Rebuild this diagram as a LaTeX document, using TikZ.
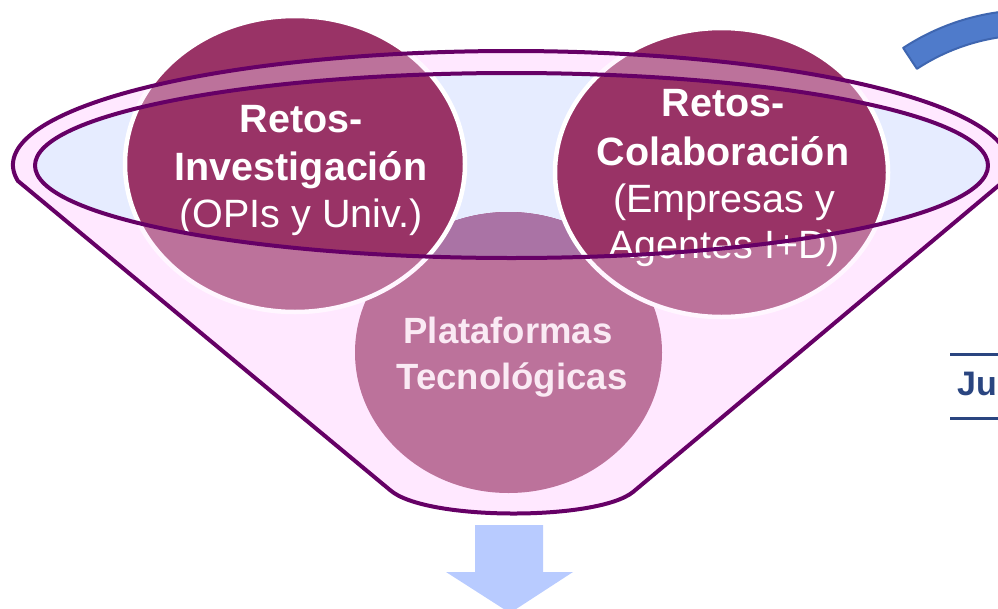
\documentclass[tikz,border=0pt]{standalone}
\usepackage{fontspec}
\setmainfont{Liberation Sans}
\definecolor{circ}{HTML}{993366}
\definecolor{funnelfill}{HTML}{FFE8FF}
\definecolor{innerfill}{HTML}{E6ECFF}
\definecolor{rim}{HTML}{660066}
\definecolor{botin}{HTML}{AA73A5}
\definecolor{arcblue}{HTML}{4F7BCB}
\definecolor{arcedge}{HTML}{3F66B0}
\definecolor{arrowblue}{HTML}{B8CBFF}
\definecolor{navy}{HTML}{2A4580}
\definecolor{platext}{HTML}{FAEAF4}
\begin{document}
\begin{tikzpicture}[x=1pt,y=-1pt,
  txtb/.style={text=white,inner sep=0pt,anchor=base,font=\fontsize{39.5}{47}\selectfont\bfseries},
  txtr/.style={text=white,inner sep=0pt,anchor=base,font=\fontsize{39.5}{47}\selectfont},
  txtp/.style={text=platext,inner sep=0pt,anchor=base,font=\fontsize{36.5}{46}\selectfont\bfseries},
  rimline/.style={draw=rim,line width=4pt,line join=round},
  topcirc/.style={fill=circ,draw=white,line width=4.5pt}]
\useasboundingbox (0,0) rectangle (998,608);
\clip (0,0) rectangle (998,608);
% funnel body
\fill[funnelfill] (511,165) ++(172:498 and 114) arc[start angle=172,end angle=368,x radius=498,y radius=114] -- (633,492) .. controls (597,521) and (425,521) .. (390,490) -- cycle;
% inner opening
\fill[innerfill] (511.5,165.5) ellipse [x radius=476.5, y radius=92.5];
% bottom circle
\fill[circ] (508.5,352.5) ellipse [x radius=153.5, y radius=140.5];
\begin{scope}
  \clip (511.5,165.5) ellipse [x radius=476.5, y radius=92.5];
  \fill[botin] (508.5,352.5) ellipse [x radius=153.5, y radius=140.5];
\end{scope}
% top circles
\path[topcirc] (295,164) ellipse [x radius=170, y radius=148];
\path[topcirc] (721.5,172.5) ellipse [x radius=166.5, y radius=144.5];
% translucent funnel overlay outside the opening
\fill[funnelfill,fill opacity=0.35,even odd rule]
  (511,165) ++(172:498 and 114) arc[start angle=172,end angle=368,x radius=498,y radius=114] -- (633,492) .. controls (597,521) and (425,521) .. (390,490) -- cycle
  (511.5,165.5) ellipse [x radius=476.5, y radius=92.5];
% texts
\node[txtb] (l1) at (301,132) {Retos-};
\node[txtb] (l2) at (301,180) {Investigación};
\node[txtr] (l3) at (301,227) {(OPIs y Univ.)};
\node[txtb] (r1) at (723,116) {Retos-};
\node[txtb] (r2) at (723,165) {Colaboración};
\node[txtr] (r3) at (724,212) {(Empresas y};
\node[txtr] (r4) at (724,258) {Agentes I+D)};
\node[txtp] (p1) at (508,343) {Plataformas};
\node[txtp] (p2) at (512,389) {Tecnológicas};
% outlines
\path[rimline] (511,165) ++(172:498 and 114) arc[start angle=172,end angle=368,x radius=498,y radius=114] -- (633,492) .. controls (597,521) and (425,521) .. (390,490) -- cycle;
\path[rimline] (511.5,165.5) ellipse [x radius=476.5, y radius=92.5];
% blue curved band (top right)
\path[fill=arcblue,draw=arcedge,line width=2pt,line join=round]
  (1030,241) ++(236.7:231) arc[start angle=236.7,end angle=290,radius=231]
  -- ([shift={(290:206)}]1030,241) arc[start angle=290,end angle=236.7,radius=206] -- cycle;
% partial table on the right
\coordinate (jt1) at (950,354);
\coordinate (jt2) at (998,354);
\coordinate (jb1) at (950,418);
\coordinate (jb2) at (998,418);
\draw[navy,line width=3pt] (jt1) -- (jt2);
\draw[navy,line width=3pt] (jb1) -- (jb2);
\node[text=navy,inner sep=0pt,anchor=base west,font=\fontsize{34}{40}\selectfont\bfseries] (ju) at (957,395) {Ju};
% down arrow
\fill[arrowblue] (475,525) -- (543,525) -- (543,572) -- (573,572) -- (510,613) -- (446,572) -- (475,572) -- cycle;
\end{tikzpicture}
\end{document}
